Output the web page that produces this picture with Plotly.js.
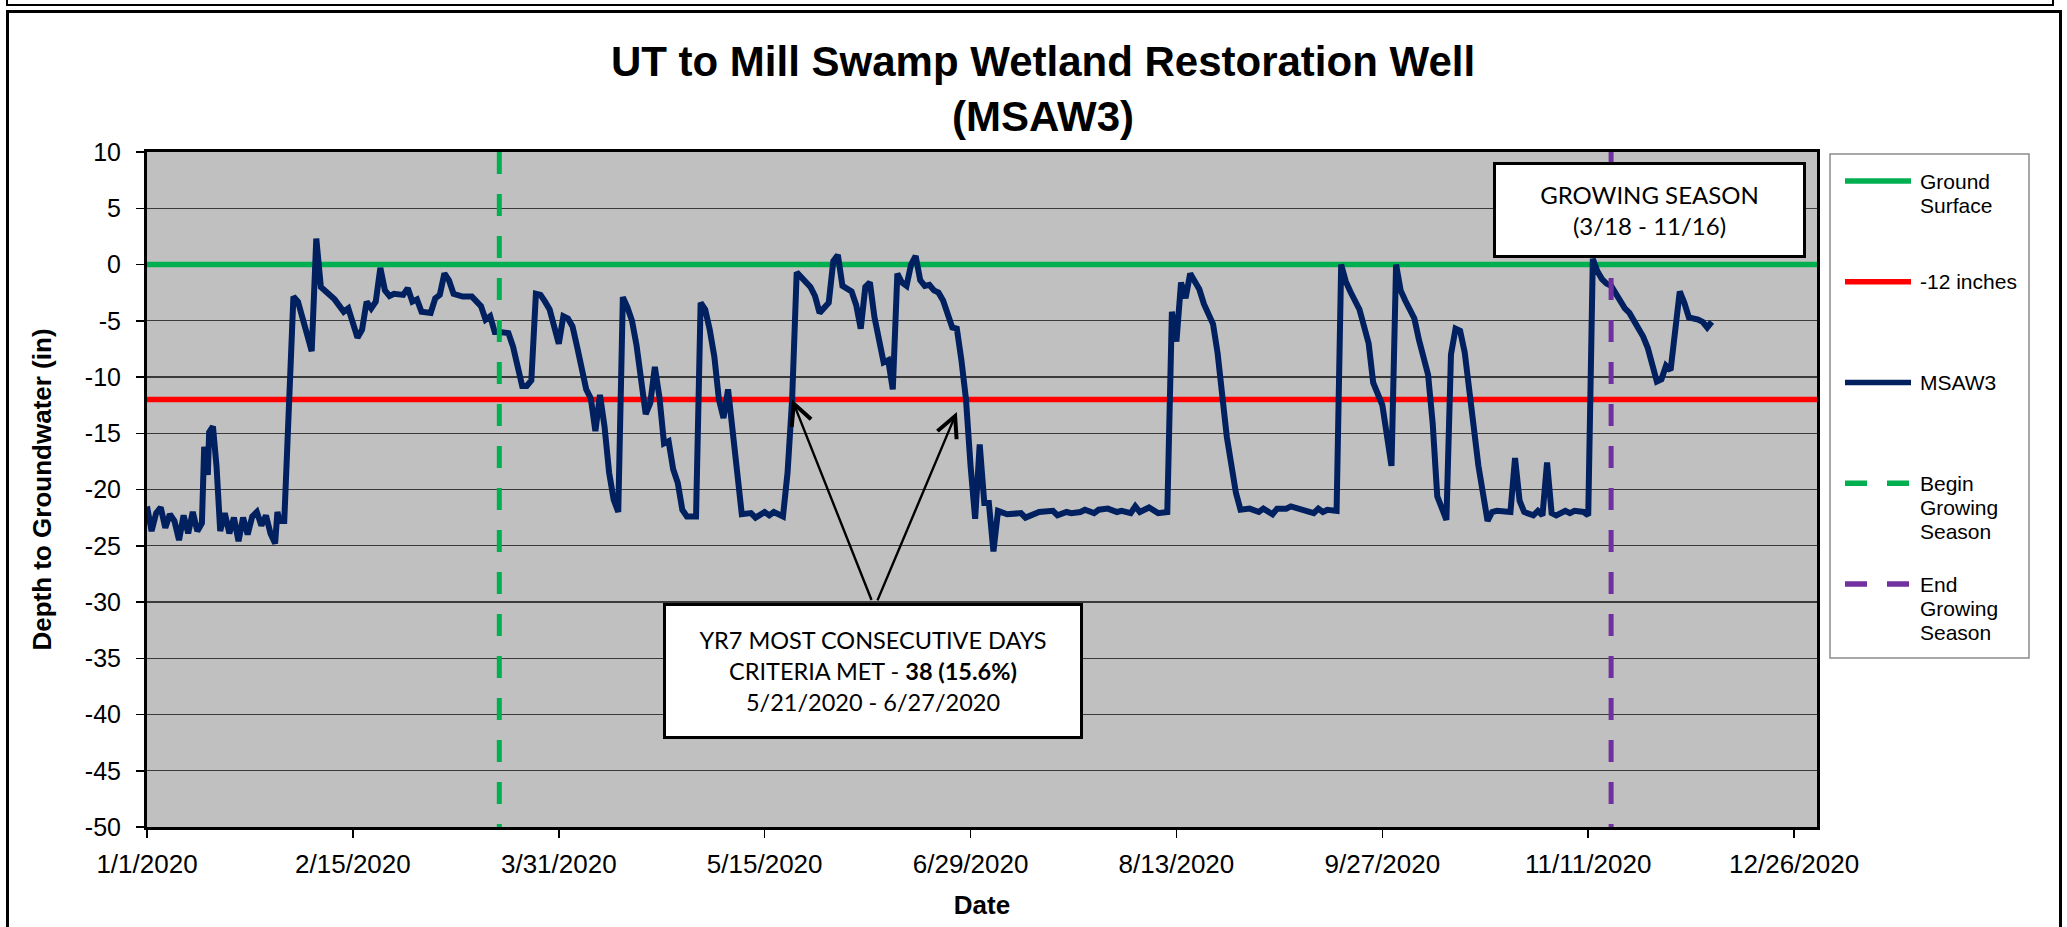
<!DOCTYPE html>
<html>
<head>
<meta charset="utf-8">
<script src="https://cdn.plot.ly/plotly-3.0.1.min.js"></script>
<style>
html,body{margin:0;padding:0;background:#fff;overflow:hidden;}
#chart{position:absolute;left:0;top:0;width:2067px;height:927px;}
.frame{position:absolute;border-style:solid;border-color:#000;pointer-events:none;}
</style>
</head>
<body>
<div id="chart"></div>
<div class="frame" style="left:6px;top:-20px;width:2044px;height:22px;border-width:2px;"></div>
<div class="frame" style="left:6px;top:10px;width:2050px;height:1000px;border-width:3px;"></div>
<script>
// ---------------- DATA ----------------
const msaw3Dates = [
 '2020-01-01','2020-01-02','2020-01-03','2020-01-04','2020-01-05','2020-01-06','2020-01-07','2020-01-08',
 '2020-01-09','2020-01-10','2020-01-11','2020-01-12','2020-01-13','2020-01-13 12:00','2020-01-14 07:00',
 '2020-01-14 14:00','2020-01-15 10:00','2020-01-16 05:00','2020-01-17','2020-01-18','2020-01-19','2020-01-20',
 '2020-01-21','2020-01-22','2020-01-23','2020-01-24','2020-01-25','2020-01-26','2020-01-27','2020-01-28',
 '2020-01-29','2020-01-29 12:00','2020-01-30','2020-01-31',
 '2020-02-02','2020-02-03','2020-02-06','2020-02-07','2020-02-08','2020-02-10','2020-02-11','2020-02-13',
 '2020-02-14','2020-02-16','2020-02-17','2020-02-18','2020-02-19','2020-02-20','2020-02-21','2020-02-22',
 '2020-02-23','2020-02-24','2020-02-26','2020-02-27','2020-02-28','2020-02-29',
 '2020-03-01','2020-03-03','2020-03-04','2020-03-05','2020-03-06','2020-03-07','2020-03-08','2020-03-10',
 '2020-03-12','2020-03-14','2020-03-15','2020-03-16','2020-03-17','2020-03-18','2020-03-20','2020-03-21',
 '2020-03-22','2020-03-23','2020-03-24','2020-03-25','2020-03-26','2020-03-27','2020-03-28','2020-03-29',
 '2020-03-31',
 '2020-04-01','2020-04-02','2020-04-03','2020-04-04','2020-04-06','2020-04-07','2020-04-08','2020-04-09',
 '2020-04-10','2020-04-11','2020-04-12','2020-04-13','2020-04-14','2020-04-15','2020-04-16','2020-04-17',
 '2020-04-19','2020-04-20','2020-04-21','2020-04-22','2020-04-23','2020-04-24','2020-04-25','2020-04-26',
 '2020-04-27','2020-04-28','2020-04-30',
 '2020-05-01','2020-05-02','2020-05-03','2020-05-04','2020-05-05','2020-05-06','2020-05-07','2020-05-08',
 '2020-05-09','2020-05-10','2020-05-12','2020-05-13','2020-05-15','2020-05-16','2020-05-17','2020-05-19',
 '2020-05-20','2020-05-21','2020-05-22','2020-05-23','2020-05-25','2020-05-26','2020-05-27','2020-05-29',
 '2020-05-30','2020-05-31',
 '2020-06-01','2020-06-03','2020-06-04','2020-06-05','2020-06-06','2020-06-07','2020-06-08','2020-06-10',
 '2020-06-11','2020-06-12','2020-06-13','2020-06-14','2020-06-15','2020-06-16','2020-06-17','2020-06-18',
 '2020-06-19','2020-06-20','2020-06-21','2020-06-22','2020-06-23','2020-06-25','2020-06-26','2020-06-27',
 '2020-06-28','2020-06-29','2020-06-30',
 '2020-07-01','2020-07-02','2020-07-03','2020-07-04','2020-07-05','2020-07-07','2020-07-10','2020-07-11',
 '2020-07-14','2020-07-17','2020-07-18','2020-07-20','2020-07-21','2020-07-23','2020-07-24','2020-07-26',
 '2020-07-27','2020-07-29','2020-07-31',
 '2020-08-01','2020-08-03','2020-08-04','2020-08-05','2020-08-07','2020-08-09','2020-08-11','2020-08-12',
 '2020-08-13','2020-08-14','2020-08-15','2020-08-16','2020-08-18','2020-08-19','2020-08-21','2020-08-22',
 '2020-08-23','2020-08-24','2020-08-26','2020-08-27','2020-08-29','2020-08-31',
 '2020-09-01','2020-09-03','2020-09-04','2020-09-06','2020-09-07','2020-09-09','2020-09-10','2020-09-12',
 '2020-09-13','2020-09-14','2020-09-15','2020-09-17','2020-09-18','2020-09-19','2020-09-20','2020-09-22',
 '2020-09-24','2020-09-25','2020-09-27','2020-09-28','2020-09-29','2020-09-30',
 '2020-10-01','2020-10-02','2020-10-04','2020-10-05','2020-10-07','2020-10-08','2020-10-09','2020-10-11',
 '2020-10-12','2020-10-13','2020-10-14','2020-10-15','2020-10-16','2020-10-18','2020-10-20','2020-10-21',
 '2020-10-22','2020-10-25','2020-10-26','2020-10-27','2020-10-28','2020-10-29','2020-10-30','2020-10-31',
 '2020-11-01','2020-11-02','2020-11-03','2020-11-04','2020-11-06','2020-11-07','2020-11-08','2020-11-10',
 '2020-11-11','2020-11-12','2020-11-13','2020-11-14','2020-11-15','2020-11-16','2020-11-17','2020-11-18',
 '2020-11-19','2020-11-20','2020-11-21','2020-11-23','2020-11-24','2020-11-26','2020-11-27','2020-11-28',
 '2020-11-29',
 '2020-12-01','2020-12-02','2020-12-03','2020-12-05','2020-12-06','2020-12-07','2020-12-08'
];
const msaw3Depth = [
 -21.5,-23.7,-22.1,-21.6,-23.4,-22.2,-22.8,-24.5,
 -22.3,-23.9,-22.0,-23.7,-23.0,-16.2,-18.7,
 -14.9,-14.4,-18.0,-23.7,-22.1,-23.9,-22.5,
 -24.6,-22.5,-24.0,-22.4,-22.0,-23.2,-22.3,-23.9,
 -24.8,-22.0,-22.8,-22.8,
 -2.85,-3.3,-7.7,2.3,-2.0,-2.85,-3.1,-4.2,
 -3.9,-6.5,-5.8,-3.3,-3.9,-3.3,-0.3,-2.3,
 -2.8,-2.6,-2.7,-2.1,-3.3,-3.1,
 -4.2,-4.3,-3.0,-2.7,-0.8,-1.4,-2.6,-2.85,
 -2.85,-3.7,-4.9,-4.6,-6.0,-6.0,-6.1,-7.3,
 -8.8,-10.8,-10.8,-10.3,-2.6,-2.7,-3.3,-4.0,
 -7.05,
 -4.6,-4.8,-5.5,-7.3,-11.1,-11.9,-14.8,-11.6,
 -14.4,-18.5,-20.9,-22.0,-2.9,-3.8,-5.0,-7.2,
 -13.3,-12.3,-9.1,-11.8,-15.9,-15.7,-18.2,-19.4,
 -21.8,-22.4,-22.4,
 -3.4,-4.0,-5.8,-8.2,-12.0,-13.65,-11.1,-15.0,
 -19.1,-22.2,-22.1,-22.5,-22.0,-22.3,-22.0,-22.4,
 -18.5,-12.0,-0.7,-1.2,-2.0,-2.8,-4.3,-3.4,
 0.3,0.85,
 -1.9,-2.4,-3.6,-5.7,-2.0,-1.6,-4.7,-8.7,
 -8.5,-11.1,-0.8,-1.6,-1.9,0.0,0.76,-1.4,
 -1.9,-1.8,-2.3,-2.5,-3.2,-5.6,-5.7,-8.5,
 -12.0,-17.9,-22.6,
 -16.0,-21.2,-21.2,-25.5,-21.9,-22.2,-22.1,-22.5,
 -22.0,-21.9,-22.3,-22.0,-22.1,-22.0,-21.8,-22.1,
 -21.8,-21.7,-22.0,
 -21.9,-22.1,-21.5,-22.0,-21.6,-22.1,-22.0,-4.2,
 -6.85,-1.6,-3.0,-0.8,-2.2,-3.5,-5.3,-7.9,
 -11.1,-15.3,-20.3,-21.8,-21.7,-22.0,
 -21.7,-22.2,-21.7,-21.7,-21.5,-21.7,-21.9,-22.1,
 -21.7,-22.0,-21.8,-21.9,0.0,-1.5,-2.4,-4.0,
 -7.0,-10.5,-12.5,-15.0,-17.9,0.0,
 -2.3,-3.2,-4.8,-6.7,-9.8,-14.1,-20.6,-22.7,
 -8.0,-5.7,-5.9,-7.8,-11.5,-17.9,-22.8,-22.0,
 -21.9,-22.0,-17.2,-21.0,-22.0,-22.2,-22.3,-21.9,
 -22.3,-17.6,-22.1,-22.3,-21.9,-22.1,-21.9,-22.0,
 -22.3,0.5,-0.6,-1.3,-1.7,-1.9,-2.6,-3.3,
 -3.9,-4.3,-5.0,-6.4,-7.4,-10.4,-10.2,-9.0,
 -9.4,
 -2.4,-3.4,-4.7,-4.9,-5.1,-5.6,-5.1
];
const groundLevel = 0;          // Ground Surface (in)
const criteriaLevel = -12;      // -12 inches criterion
const growStart = '2020-03-18'; // Begin Growing Season
const growEnd = '2020-11-16';   // End Growing Season
const xStart = '2020-01-01';
const xEnd = '2020-12-31';
const yMin = -50;
const yMax = 10;
const xTickDates = ['2020-01-01','2020-02-15','2020-03-31','2020-05-15','2020-06-29','2020-08-13','2020-09-27','2020-11-11','2020-12-26'];
const xTickLabels = ['1/1/2020','2/15/2020','3/31/2020','5/15/2020','6/29/2020','8/13/2020','9/27/2020','11/11/2020','12/26/2020'];
const yTickVals = [10,5,0,-5,-10,-15,-20,-25,-30,-35,-40,-45,-50];
const yTickLabels = ['10','5','0','-5','-10','-15','-20','-25','-30','-35','-40','-45','-50'];
const seriesNames = ['Ground Surface','-12 inches','MSAW3','Begin Growing Season','End Growing Season'];
const legendLabels = [['Ground','Surface'],['-12 inches'],['MSAW3'],['Begin','Growing','Season'],['End','Growing','Season']];
const seriesColors = ['#00B050','#FF0000','#002060','#00B050','#7030A0'];
const seriesDashed = [false,false,false,true,true];
const chartTitle = 'UT to Mill Swamp Wetland Restoration Well<br>(MSAW3)';
const growingText = 'GROWING SEASON<br>(3/18 - 11/16)';
const criteriaText = 'YR7 MOST CONSECUTIVE DAYS<br>CRITERIA MET - <b>38 (15.6%)</b><br>5/21/2020 - 6/27/2020';
const criteriaStart = '2020-05-21';

// ---------------- LAYOUT HELPERS ----------------
const W = 2067, Hh = 927;
const L = 147, R = 1817, T = 152, B = 827;
const PW = R - L, PH = B - T;
const px = v => (v - L) / PW;
const py = v => (B - v) / PH;
const ARIAL = 'Liberation Sans, Arial, Helvetica, sans-serif';
const CALIBRI = 'Lato, Carlito, Calibri, Open Sans, sans-serif';
const DASH = '22px,20px';

// ---------------- TRACES ----------------
const traces = [
  {x:[xStart,xEnd], y:[groundLevel,groundLevel], name:seriesNames[0], mode:'lines',
   line:{color:seriesColors[0], width:5.5}},
  {x:[xStart,xEnd], y:[criteriaLevel,criteriaLevel], name:seriesNames[1], mode:'lines',
   line:{color:seriesColors[1], width:5.5}},
  {x:msaw3Dates, y:msaw3Depth, name:seriesNames[2], mode:'lines',
   line:{color:seriesColors[2], width:6, shape:'linear'}},
  {x:[growStart,growStart], y:[yMax,yMin], name:seriesNames[3], mode:'lines',
   line:{color:seriesColors[3], width:5, dash:DASH}},
  {x:[growEnd,growEnd], y:[yMax,yMin], name:seriesNames[4], mode:'lines',
   line:{color:seriesColors[4], width:5, dash:DASH}}
];

// ---------------- MANUAL LEGEND ----------------
const shapes = [
  {type:'rect', xref:'paper', yref:'paper', x0:px(1830), x1:px(2029), y0:py(658), y1:py(154),
   line:{color:'#8c8c8c', width:1.5}, fillcolor:'#ffffff', layer:'above'}
];
const annotations = [];
legendLabels.forEach((lines, i) => {
  const cy = 181 + i * 100.75;
  shapes.push({type:'line', xref:'paper', yref:'paper', x0:px(1845), x1:px(1911), y0:py(cy), y1:py(cy),
    line:{color:seriesColors[i], width:5.5, dash: seriesDashed[i] ? DASH : 'solid'}, layer:'above'});
  lines.forEach((t, j) => {
    annotations.push({xref:'paper', yref:'paper', x:px(1918), y:py(cy + j * 24.3),
      xanchor:'left', yanchor:'middle', text:t, showarrow:false,
      font:{family:ARIAL, size:21, color:'#000'}});
  });
});

// text boxes
annotations.push({xref:'paper', yref:'paper', x:px(1649.5), y:py(210), xanchor:'center', yanchor:'middle',
  text:growingText, showarrow:false, align:'center', valign:'middle',
  width:307, height:90, bgcolor:'#ffffff', bordercolor:'#000', borderwidth:3, borderpad:0,
  font:{family:CALIBRI, size:24, color:'#000'}});
annotations.push({xref:'paper', yref:'paper', x:px(873), y:py(671), xanchor:'center', yanchor:'middle',
  text:criteriaText, showarrow:false, align:'center', valign:'middle',
  width:414, height:130, bgcolor:'#ffffff', bordercolor:'#000', borderwidth:3, borderpad:0,
  font:{family:CALIBRI, size:23.5, color:'#000'}});
// arrows
annotations.push({xref:'x', yref:'y', x:criteriaStart, y:criteriaLevel, ax:80, ay:202, text:'',
  showarrow:true, arrowhead:5, arrowsize:1.7, arrowwidth:2.4, arrowcolor:'#000'});
annotations.push({xref:'x', yref:'y', x:'2020-06-26', y:-13.1, ax:-80, ay:190, text:'',
  showarrow:true, arrowhead:5, arrowsize:1.7, arrowwidth:2.4, arrowcolor:'#000'});

const layout = {
  width: W, height: Hh,
  margin: {l:L, r:W-R, t:T, b:Hh-B, pad:0},
  paper_bgcolor:'#ffffff',
  plot_bgcolor:'#C0C0C0',
  showlegend:false,
  title:{text:chartTitle, xref:'container', yref:'container', x:1043/W, xanchor:'center',
    y:1-76/Hh, yanchor:'top',
    font:{family:ARIAL, size:42, weight:'bold', color:'#000'}},
  xaxis:{type:'date', range:[xStart,xEnd], tickmode:'array', tickvals:xTickDates, ticktext:xTickLabels,
    ticks:'outside', ticklen:8, tickwidth:1.5, tickcolor:'#000',
    showgrid:false, zeroline:false, showline:true, linecolor:'#000', linewidth:3, mirror:true,
    tickfont:{family:ARIAL, size:26, color:'#000'}, ticklabelstandoff:4,
    title:{text:'Date', font:{family:ARIAL, size:26, weight:'bold', color:'#000'}, standoff:18},
    automargin:false, fixedrange:true},
  yaxis:{range:[yMin,yMax], tickmode:'array', tickvals:yTickVals, ticktext:yTickLabels,
    ticks:'outside', ticklen:8, tickwidth:1.5, tickcolor:'#000',
    showgrid:true, gridcolor:'#3a3a3a', gridwidth:1.3, zeroline:false,
    showline:true, linecolor:'#000', linewidth:3, mirror:true,
    tickfont:{family:ARIAL, size:25, color:'#000'}, ticklabelstandoff:10,
    title:{text:'Depth to Groundwater (in)', font:{family:ARIAL, size:26, weight:'bold', color:'#000'}, standoff:26},
    automargin:false, fixedrange:true},
  shapes: shapes,
  annotations: annotations
};

Plotly.newPlot('chart', traces, layout, {displayModeBar:false, staticPlot:true});
</script>
</body>
</html>
